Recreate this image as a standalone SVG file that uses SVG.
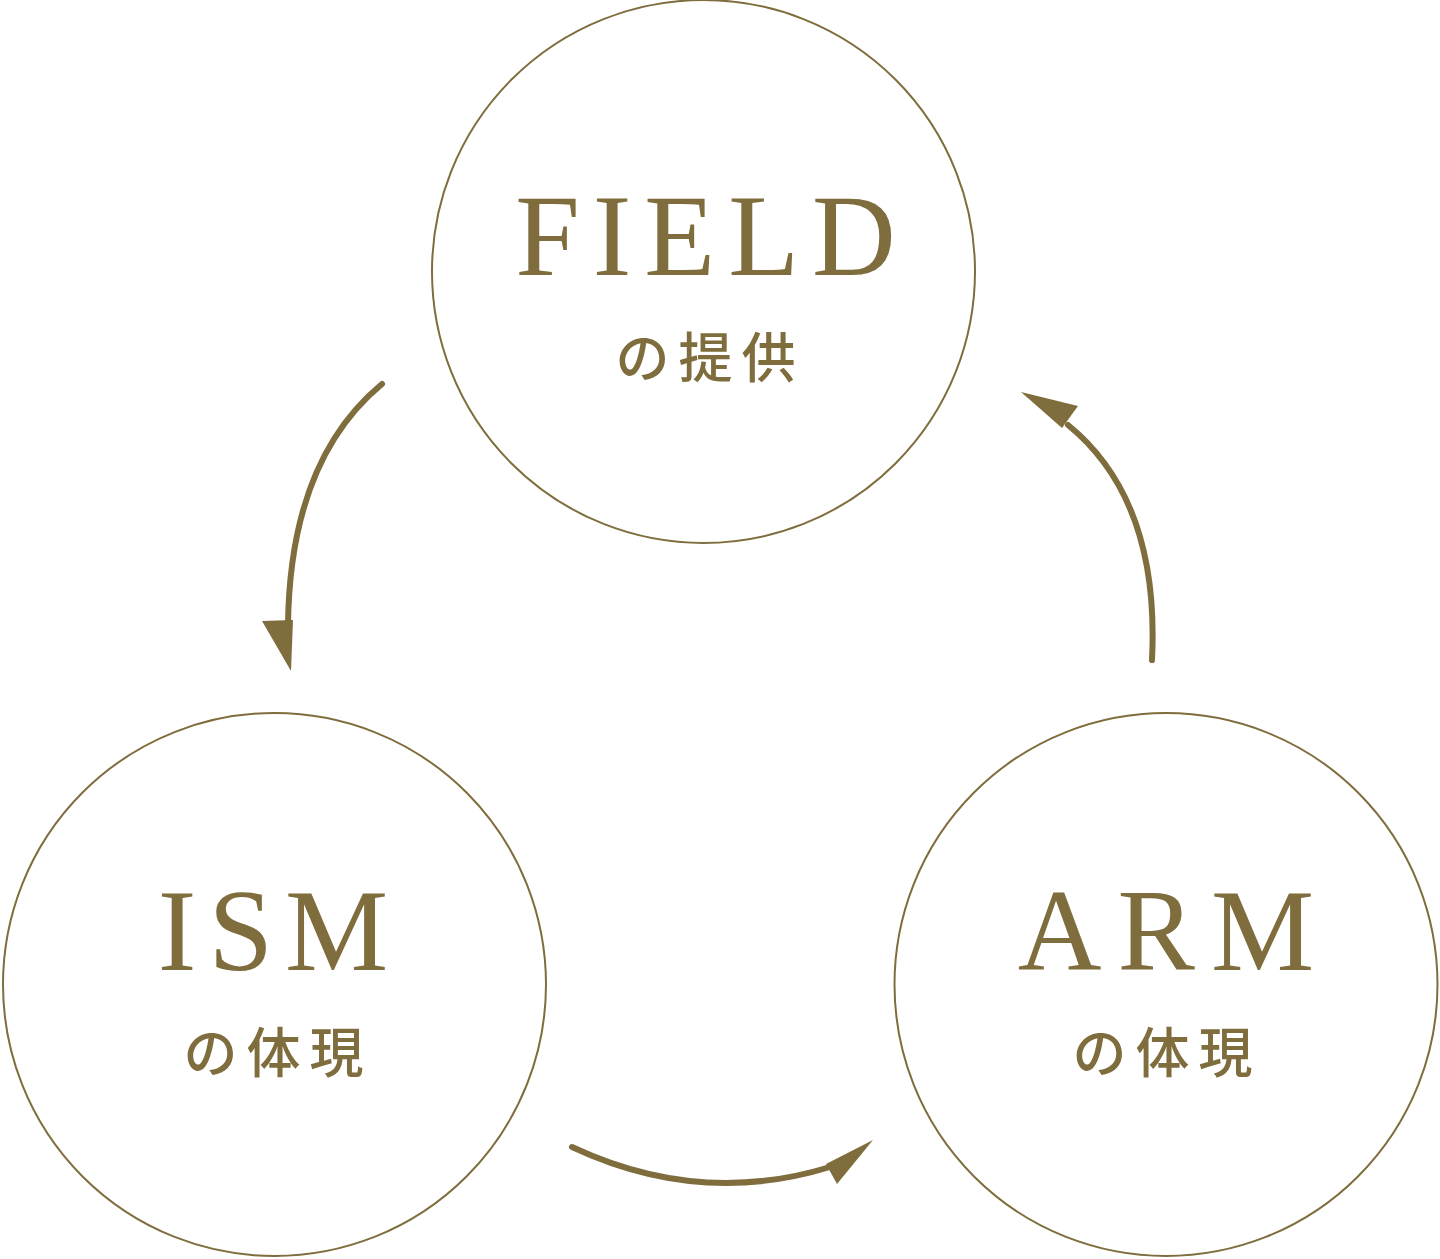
<svg xmlns="http://www.w3.org/2000/svg" width="1440" height="1259" viewBox="0 0 1440 1259">
<style>
.ring{fill:none;stroke:#7f6d3d;stroke-width:2}
.en{font-family:"Liberation Serif","Times New Roman",serif;font-size:116px;fill:#7f6d3d;text-anchor:middle;letter-spacing:16px}
.jp{font-family:"Noto Sans CJK JP",sans-serif;font-size:54px;font-weight:500;fill:#7f6d3d;text-anchor:middle;letter-spacing:9px}
.arc{fill:none;stroke:#7f6d3d;stroke-width:6;stroke-linecap:round}
.head{fill:#7f6d3d}
</style>
<rect width="1440" height="1259" fill="#ffffff"/>
<g id="node-field">
<circle class="ring" cx="703.5" cy="271.5" r="271.5"/>
<text class="en" x="712" y="275" style="letter-spacing:13px">FIELD</text>
<text class="jp" x="710" y="378">の提供</text>
</g>
<g id="node-ism">
<circle class="ring" cx="274.5" cy="984.5" r="271.5"/>
<text class="en" x="279" y="970" style="letter-spacing:12px">ISM</text>
<text class="jp" x="278" y="1073">の体現</text>
</g>
<g id="node-arm">
<circle class="ring" cx="1166" cy="984.5" r="271.5"/>
<text class="en" x="1174" y="970">ARM</text>
<text class="jp" x="1167" y="1073">の体現</text>
</g>
<g id="connectors">
<path class="arc" d="M382,384 Q290,460 288,625"/>
<polygon class="head" points="262,621 293,620 291,671"/>
<path class="arc" d="M572,1147 Q700,1207 830,1167"/>
<polygon class="head" points="873,1140 826,1164 837,1184"/>
<path class="arc" d="M1152,660 Q1160,500 1068,425"/>
<polygon class="head" points="1021,392 1078,406 1062,428"/>
</g>
</svg>
